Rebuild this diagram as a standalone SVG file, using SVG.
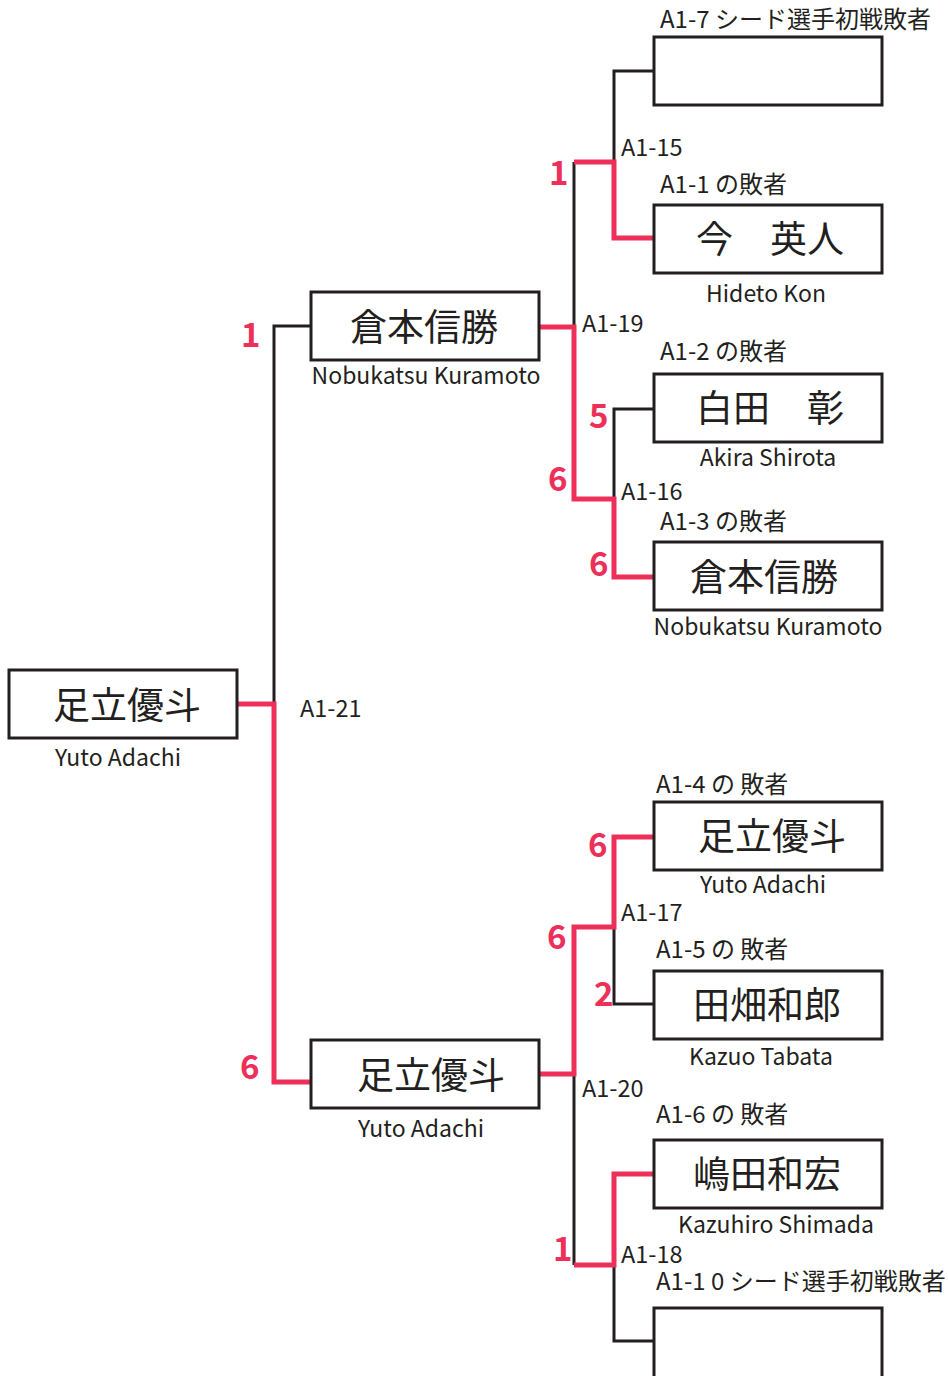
<svg xmlns="http://www.w3.org/2000/svg" width="948" height="1376" viewBox="0 0 948 1376">
<style>
.box{fill:#fff;stroke:#231f20;stroke-width:3}
.blk{fill:none;stroke:#231f20;stroke-width:3}
.red{fill:none;stroke:#ed3059;stroke-width:5}
text{font-family:"Noto Sans CJK JP","Noto Sans",sans-serif;fill:#231f20}
.nm{font-size:37px;text-anchor:middle}
.sm{font-size:24px}
.id{font-size:23.5px}
.en{font-size:23px;text-anchor:middle}
.sc{font-size:33px;font-weight:700;fill:#ed3059}
</style>
<rect width="948" height="1376" fill="#fff"/>
<g id="connectors">
<path class="blk" d="M654,71 H614 V162"/>
<path class="blk" d="M574,162 V327"/>
<path class="blk" d="M654,409 H614 V499"/>
<path class="blk" d="M311,326 H274 V704"/>
<path class="blk" d="M614,927 V1004 H654"/>
<path class="blk" d="M574,1074 V1265"/>
<path class="blk" d="M614,1265 V1341 H654"/>
<path class="red" d="M574,162 H614 V238 H654"/>
<path class="red" d="M539,327 H574 V499 H614 V577 H654"/>
<path class="red" d="M237,704 H274 V1082 H311"/>
<path class="red" d="M654,837 H614 V927 H574 V1074 H539"/>
<path class="red" d="M574,1265 H614 V1174 H654"/>
</g>
<g id="labels">
<text class="id" x="621" y="156">A1-15</text>
<text class="id" x="582" y="332">A1-19</text>
<text class="id" x="621" y="500">A1-16</text>
<text class="id" x="300" y="717">A1-21</text>
<text class="id" x="621" y="921">A1-17</text>
<text class="id" x="582" y="1097">A1-20</text>
<text class="id" x="621" y="1263">A1-18</text>
<text class="sc" x="549" y="185">1</text>
<text class="sc" x="241" y="347">1</text>
<text class="sc" x="589" y="428">5</text>
<text class="sc" x="548" y="491">6</text>
<text class="sc" x="589" y="576">6</text>
<text class="sc" x="588" y="857">6</text>
<text class="sc" x="547" y="949">6</text>
<text class="sc" x="594" y="1006">2</text>
<text class="sc" x="240" y="1079">6</text>
<text class="sc" x="553" y="1261">1</text>
</g>
<g id="seed-a1-7">
<text class="sm" x="660" y="28">A1-7 シード選手初戦敗者</text>
<rect class="box" x="654" y="37" width="228" height="68"/>
</g>
<g id="kon">
<text class="sm" x="660" y="193">A1-1 の敗者</text>
<rect class="box" x="654" y="205" width="228" height="68"/>
<text class="nm" x="770" y="253">今　英人</text>
<text class="en" x="766" y="302">Hideto Kon</text>
</g>
<g id="shirota">
<text class="sm" x="660" y="360">A1-2 の敗者</text>
<rect class="box" x="654" y="374" width="228" height="68"/>
<text class="nm" x="770" y="422">白田　彰</text>
<text class="en" x="768" y="466">Akira Shirota</text>
</g>
<g id="kuramoto-r1">
<text class="sm" x="660" y="530">A1-3 の敗者</text>
<rect class="box" x="654" y="542" width="228" height="68"/>
<text class="nm" x="764" y="591">倉本信勝</text>
<text class="en" x="768" y="635">Nobukatsu Kuramoto</text>
</g>
<g id="adachi-r1">
<text class="sm" x="656" y="793">A1-4 の 敗者</text>
<rect class="box" x="654" y="802" width="228" height="68"/>
<text class="nm" x="772" y="850">足立優斗</text>
<text class="en" x="763" y="893">Yuto Adachi</text>
</g>
<g id="tabata">
<text class="sm" x="656" y="958">A1-5 の 敗者</text>
<rect class="box" x="654" y="971" width="228" height="68"/>
<text class="nm" x="767" y="1019">田畑和郎</text>
<text class="en" x="761" y="1065">Kazuo Tabata</text>
</g>
<g id="shimada">
<text class="sm" x="656" y="1123">A1-6 の 敗者</text>
<rect class="box" x="654" y="1140" width="228" height="68"/>
<text class="nm" x="767" y="1188">嶋田和宏</text>
<text class="en" x="776" y="1233">Kazuhiro Shimada</text>
</g>
<g id="seed-a1-10">
<text class="sm" x="656" y="1290">A1-1 0 シード選手初戦敗者</text>
<rect class="box" x="654" y="1308" width="228" height="80"/>
</g>
<g id="kuramoto-r2">
<rect class="box" x="311" y="292" width="228" height="68"/>
<text class="nm" x="424" y="341">倉本信勝</text>
<text class="en" x="426" y="384">Nobukatsu Kuramoto</text>
</g>
<g id="adachi-r2">
<rect class="box" x="311" y="1040" width="228" height="68"/>
<text class="nm" x="431" y="1089">足立優斗</text>
<text class="en" x="421" y="1137">Yuto Adachi</text>
</g>
<g id="adachi-final">
<rect class="box" x="9" y="670" width="228" height="68"/>
<text class="nm" x="127" y="719">足立優斗</text>
<text class="en" x="118" y="766">Yuto Adachi</text>
</g>
</svg>
